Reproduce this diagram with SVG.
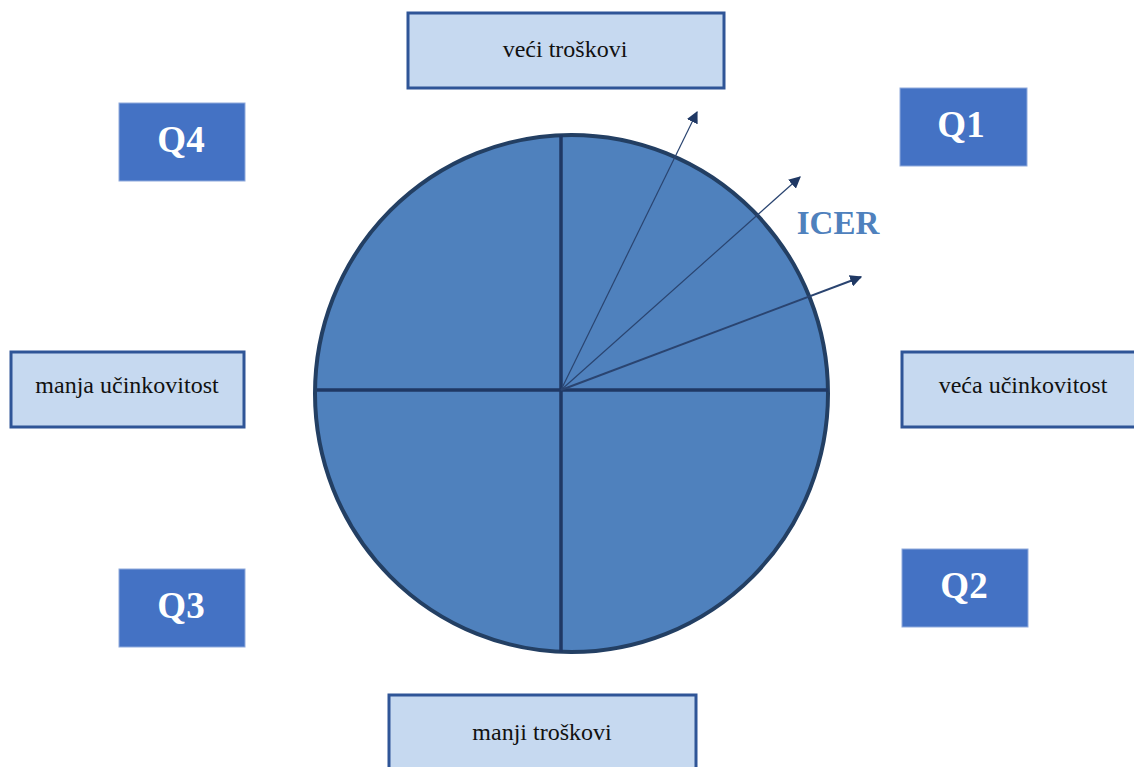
<svg xmlns="http://www.w3.org/2000/svg" width="1134" height="767" viewBox="0 0 1134 767">
<style>
.lbl{fill:#c6d9f0;stroke:#2f5597;stroke-width:3}
.lt{font-family:"Liberation Serif",serif;font-size:24px;fill:#111;text-anchor:middle}
.q{fill:#4472c4;stroke:#8faadc;stroke-width:1}
.qt{font-family:"Liberation Serif",serif;font-size:37px;font-weight:bold;fill:#fff;text-anchor:middle}
.ax{stroke:#1f3864;stroke-width:3.5;fill:none}
.ar{stroke:#2a4470;fill:none}
</style>
<defs>
<marker id="ah" viewBox="0 0 10 10" refX="9" refY="5" markerWidth="12" markerHeight="12" markerUnits="userSpaceOnUse" orient="auto">
<path d="M0,0 L10,5 L0,10 Z" fill="#1f3864"/>
</marker>
</defs>
<rect width="1134" height="767" fill="#fff"/>
<g id="circle">
<ellipse cx="571.5" cy="393.5" rx="256.5" ry="258.5" fill="#4f81bd" stroke="#233f63" stroke-width="4"/>
</g>
<g id="connectors">
<line class="ax" x1="561" y1="135" x2="561" y2="652"/>
<line class="ax" x1="317" y1="390" x2="828" y2="390"/>
<line class="ar" stroke-width="1.2" x1="561" y1="390" x2="697" y2="112" marker-end="url(#ah)"/>
<line class="ar" stroke-width="1.2" x1="561" y1="390" x2="800" y2="177" marker-end="url(#ah)"/>
<line class="ar" stroke-width="2" x1="561" y1="390" x2="861" y2="277" marker-end="url(#ah)"/>
</g>
<g id="icer"><text x="838" y="234" font-family="'Liberation Serif',serif" font-size="33" font-weight="bold" fill="#4f81bd" text-anchor="middle">ICER</text></g>
<g id="top"><rect class="lbl" x="408" y="13" width="316" height="75"/><text class="lt" x="565" y="57">veći troškovi</text></g>
<g id="right"><rect class="lbl" x="902" y="352" width="240" height="75"/><text class="lt" x="1023" y="393">veća učinkovitost</text></g>
<g id="left"><rect class="lbl" x="11" y="352" width="233" height="75"/><text class="lt" x="127" y="393">manja učinkovitost</text></g>
<g id="bottom"><rect class="lbl" x="389" y="695" width="307" height="80"/><text class="lt" x="542" y="740">manji troškovi</text></g>
<g id="q1"><rect class="q" x="900" y="88" width="127" height="78"/><text class="qt" x="961" y="137">Q1</text></g>
<g id="q2"><rect class="q" x="902" y="549" width="126" height="78"/><text class="qt" x="964" y="598">Q2</text></g>
<g id="q3"><rect class="q" x="119" y="569" width="126" height="78"/><text class="qt" x="181" y="618">Q3</text></g>
<g id="q4"><rect class="q" x="119" y="103" width="126" height="78"/><text class="qt" x="181" y="152">Q4</text></g>
</svg>
